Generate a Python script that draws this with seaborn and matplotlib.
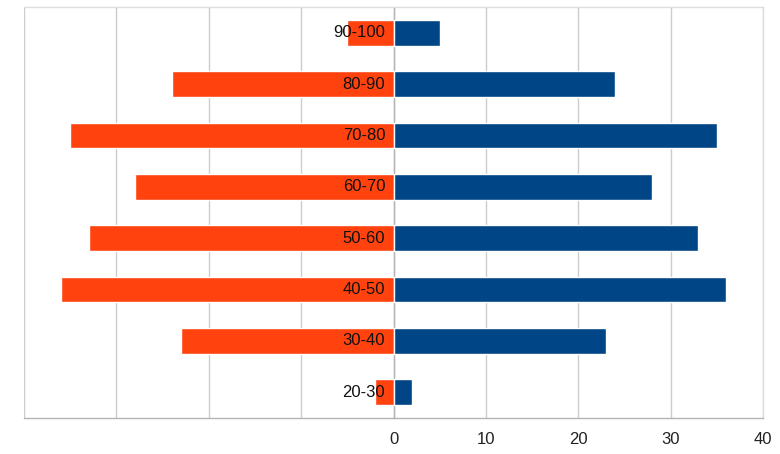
import matplotlib
matplotlib.use("Agg")
import matplotlib.pyplot as plt
import seaborn as sns
import pandas as pd
import numpy as np
from matplotlib.ticker import FixedLocator

categories = ["90-100", "80-90", "70-80", "60-70", "50-60", "40-50", "30-40", "20-30"]
left_values = [-5, -24, -35, -28, -33, -36, -23, -2]
right_values = [5, 24, 35, 28, 33, 36, 23, 2]
x_ticks = [-40, -30, -20, -10, 0, 10, 20, 30, 40]
x_tick_labels = ["", "", "", "", "0", "10", "20", "30", "40"]

df = pd.concat([
    pd.DataFrame({"cat": categories, "value": left_values, "side": "left"}),
    pd.DataFrame({"cat": categories, "value": right_values, "side": "right"}),
])

sns.set_style("white")
plt.rcParams["font.family"] = ["Liberation Sans", "DejaVu Sans"]

fig = plt.figure(figsize=(7.8, 4.54), dpi=100)
ax = fig.add_axes([24 / 780, 36 / 454, 739 / 780, 411 / 454])

sns.barplot(data=df, x="value", y="cat", hue="side", order=categories,
            palette={"left": "#ff420e", "right": "#004586"},
            dodge=False, width=0.5, orient="h", ax=ax, legend=False,
            saturation=1, zorder=2)

ax.set_xlim(-40, 40)
ax.set_ylim(len(categories) - 0.5, -0.5)
ax.set_xticks(x_ticks)
ax.set_xticklabels(x_tick_labels)
ax.set_xlabel("")
ax.set_ylabel("")
ax.set_axisbelow(True)
ax.grid(axis="x", color="#cccccc", linewidth=1)
ax.grid(axis="y", visible=False)

gray = "#b3b3b3"
for s in ["top", "right", "bottom", "left"]:
    ax.spines[s].set_visible(True)
    ax.spines[s].set_color(gray)
    ax.spines[s].set_linewidth(1)
ax.spines["left"].set_position(("data", 0))
ax.spines["left"].set_zorder(1)
ax.spines["top"].set_color("#dddddd")
ax.spines["right"].set_color("#dddddd")

ax.tick_params(axis="x", which="major", length=6, color=gray, labelsize=12,
               labelcolor="#222222", pad=4, direction="out")
ax.set_yticks(range(len(categories)))
ax.set_yticklabels([])
ax.tick_params(axis="y", which="major", length=0)
ax.yaxis.set_minor_locator(FixedLocator(np.arange(0.5, len(categories) - 0.5, 1)))
ax.tick_params(axis="y", which="minor", length=6, color=gray, direction="out")

for i, c in enumerate(categories):
    ax.annotate(c, xy=(0, i), xytext=(-6, 0), textcoords="offset points",
                ha="right", va="center", fontsize=12, color="#111111", zorder=5)

fig.savefig("out.png", dpi=100)
